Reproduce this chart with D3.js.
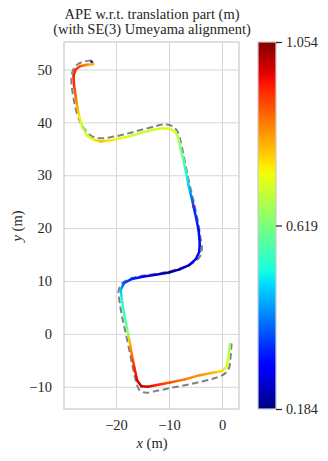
<!DOCTYPE html>
<html>
<head>
<meta charset="utf-8">
<script src="https://cdn.jsdelivr.net/npm/d3@7"></script>
<style>
  html, body { margin: 0; padding: 0; background: #fff; }
  svg text { font-family: "Liberation Serif", "DejaVu Serif", serif; fill: #262626; }
</style>
</head>
<body>
<svg id="chart" width="328" height="461"></svg>
<script>
// reference trajectory (grey dashed)
const refX = [-24.6, -26.0, -27.2, -28.0, -28.4, -28.3, -28.0, -27.5, -26.8, -26.0, -24.6, -23.0, -21.0, -19.0, -17.0, -14.8, -12.5, -11.0, -9.6, -8.6, -8.1, -7.6, -7.0, -6.4, -5.7, -5.1, -4.5, -4.1, -3.8, -4.2, -5.2, -6.8, -9.0, -12.0, -15.0, -17.2, -18.8, -19.5, -19.3, -18.8, -18.3, -17.6, -16.9, -16.2, -15.6, -14.5, -12.0, -9.6, -7.0, -4.2, -1.5, 0.4, 1.3, 1.6, 1.8];
const refY = [51.7, 51.5, 51.0, 50.1, 48.5, 46.5, 44.5, 42.2, 40.2, 38.8, 37.4, 37.0, 37.2, 37.6, 38.1, 38.7, 39.3, 39.6, 39.4, 38.6, 37.5, 35.5, 32.5, 29.6, 26.5, 24.0, 21.0, 18.5, 16.0, 14.6, 13.6, 12.8, 12.1, 11.4, 11.0, 10.5, 9.6, 8.2, 6.0, 3.0, 0.8, -2.5, -6.0, -9.0, -10.6, -11.1, -10.7, -10.2, -9.7, -9.1, -8.4, -7.6, -6.5, -4.5, -1.8];

// estimated trajectory, coloured by APE
const estX = [-24.6, -24.3, -25.5, -26.8, -27.6, -28.0, -27.9, -27.6, -27.3, -26.9, -26.3, -25.4, -24.2, -22.8, -21.0, -19.0, -17.0, -15.0, -13.0, -11.2, -9.8, -8.8, -8.2, -7.8, -7.3, -6.8, -6.3, -5.8, -5.45, -5.42, -5.38, -4.9, -4.4, -4.2, -4.3, -4.9, -6.2, -8.0, -10.0, -12.5, -15.0, -17.0, -18.5, -19.1, -18.9, -18.5, -18.1, -17.7, -17.4, -17.0, -16.5, -16.0, -15.2, -14.0, -12.0, -9.8, -7.0, -4.2, -1.5, 0.0, 0.9, 1.2, 1.5];
const estY = [51.5, 51.0, 50.9, 50.6, 50.0, 48.8, 47.0, 45.0, 43.0, 41.0, 39.0, 37.5, 36.7, 36.4, 36.6, 37.0, 37.5, 38.1, 38.6, 38.9, 38.8, 38.2, 37.0, 35.0, 33.0, 30.5, 28.0, 26.0, 24.5, 24.3, 24.1, 22.0, 19.5, 17.0, 15.5, 14.2, 13.0, 12.2, 11.6, 11.2, 10.8, 10.4, 9.6, 8.3, 6.5, 4.0, 2.0, 0.0, -1.5, -4.0, -6.5, -8.8, -9.9, -10.0, -9.6, -9.2, -8.6, -7.8, -7.3, -7.0, -6.2, -4.5, -1.9];
const apeErr = [0.25, 0.80, 0.85, 0.90, 0.93, 0.95, 0.93, 0.88, 0.82, 0.75, 0.68, 0.70, 0.76, 0.80, 0.76, 0.73, 0.71, 0.70, 0.71, 0.72, 0.72, 0.70, 0.67, 0.63, 0.58, 0.52, 0.47, 0.40, 0.35, 0.95, 0.34, 0.33, 0.30, 0.30, 0.30, 0.28, 0.25, 0.22, 0.20, 0.24, 0.28, 0.32, 0.36, 0.45, 0.52, 0.55, 0.58, 0.66, 0.80, 0.88, 0.94, 0.98, 1.00, 0.98, 0.94, 0.90, 0.86, 0.84, 0.80, 0.77, 0.72, 0.70, 0.65];

const xTicks = [-20, -10, 0];
const yTicks = [-10, 0, 10, 20, 30, 40, 50];
const cbarTicks = [0.184, 0.619, 1.054];

const svg = d3.select("#chart");
const plot = { left: 64, right: 239, top: 42, bottom: 409 };
const fontSize = 14.5;

const x = d3.scaleLinear().domain([-29.8, 3.2]).range([plot.left, plot.right]);
const y = d3.scaleLinear().domain([-14.2, 55.2]).range([plot.bottom, plot.top]);

// matplotlib "jet"
const jetR = d3.scaleLinear().domain([0, 0.35, 0.66, 0.89, 1]).range([0, 0, 1, 1, 0.5]).clamp(true);
const jetG = d3.scaleLinear().domain([0, 0.125, 0.375, 0.64, 0.91, 1]).range([0, 0, 1, 1, 0, 0]).clamp(true);
const jetB = d3.scaleLinear().domain([0, 0.11, 0.34, 0.65, 1]).range([0.5, 1, 1, 0, 0]).clamp(true);
const jet = (t) => d3.rgb(jetR(t) * 255, jetG(t) * 255, jetB(t) * 255).formatHex();
const norm = d3.scaleLinear().domain([0.184, 1.054]).range([0, 1]).clamp(true);
const errColor = (v) => jet(norm(v));

const defs = svg.append("defs");
const minus = (d) => d3.format("d")(d).replace("-", "\u2212");

// grid
const xAxis = svg.append("g")
  .attr("transform", `translate(0, ${plot.bottom})`)
  .call(d3.axisBottom(x).tickValues(xTicks).tickSizeInner(-(plot.bottom - plot.top)).tickSizeOuter(0).tickPadding(11).tickFormat(minus));
const yAxis = svg.append("g")
  .attr("transform", `translate(${plot.left}, 0)`)
  .call(d3.axisLeft(y).tickValues(yTicks).tickSizeInner(-(plot.right - plot.left)).tickSizeOuter(0).tickPadding(12).tickFormat(minus));

[xAxis, yAxis].forEach((a) => {
  a.select(".domain").remove();
  a.selectAll(".tick line").attr("stroke", "#d6d6d6").attr("stroke-width", 1);
  a.selectAll(".tick text").attr("font-size", fontSize).attr("fill", "#262626");
});

svg.append("rect")
  .attr("x", plot.left).attr("y", plot.top)
  .attr("width", plot.right - plot.left).attr("height", plot.bottom - plot.top)
  .attr("fill", "none").attr("stroke", "#cccccc").attr("stroke-width", 1.25);

const clip = defs.append("clipPath").attr("id", "plot-clip");
clip.append("rect").attr("x", plot.left).attr("y", plot.top)
  .attr("width", plot.right - plot.left).attr("height", plot.bottom - plot.top);

const g = svg.append("g").attr("clip-path", "url(#plot-clip)");

// reference, dashed
const refPts = refX.map((v, i) => [v, refY[i]]);
const line = d3.line().x((d) => x(d[0])).y((d) => y(d[1])).curve(d3.curveCatmullRom);
g.append("path")
  .attr("d", line(refPts))
  .attr("fill", "none")
  .attr("stroke", "#808080")
  .attr("stroke-width", 2)
  .attr("stroke-dasharray", "6.5,3.5");

// estimate, one gradient segment per pair of points
const estPts = estX.map((v, i) => ({ x: v, y: estY[i], e: apeErr[i] }));
d3.pairs(estPts).forEach(([a, b], i) => {
  const grad = defs.append("linearGradient")
    .attr("id", `seg-${i}`)
    .attr("gradientUnits", "userSpaceOnUse")
    .attr("x1", x(a.x)).attr("y1", y(a.y))
    .attr("x2", x(b.x)).attr("y2", y(b.y));
  grad.append("stop").attr("offset", "0%").attr("stop-color", errColor(a.e));
  grad.append("stop").attr("offset", "100%").attr("stop-color", errColor(b.e));
  g.append("line")
    .attr("x1", x(a.x)).attr("y1", y(a.y))
    .attr("x2", x(b.x)).attr("y2", y(b.y))
    .attr("stroke", `url(#seg-${i})`)
    .attr("stroke-width", 2.5)
    .attr("stroke-linecap", "round");
});

// title & axis labels
const title = svg.append("text").attr("x", 152).attr("y", 19)
  .attr("text-anchor", "middle").attr("font-size", fontSize);
title.append("tspan").attr("x", 152).text("APE w.r.t. translation part (m)");
title.append("tspan").attr("x", 152).attr("dy", 15).text("(with SE(3) Umeyama alignment)");

const xl = svg.append("text").attr("x", 152).attr("y", 448)
  .attr("text-anchor", "middle").attr("font-size", fontSize);
xl.append("tspan").attr("font-style", "italic").text("x");
xl.append("tspan").text(" (m)");

const yl = svg.append("text").attr("transform", "translate(22, 226) rotate(-90)")
  .attr("text-anchor", "middle").attr("font-size", fontSize);
yl.append("tspan").attr("font-style", "italic").text("y");
yl.append("tspan").text(" (m)");

// colorbar
const cb = { left: 258, width: 18 };
const cbScale = d3.scaleLinear().domain([0.184, 1.054]).range([plot.bottom, plot.top]);
const cbGrad = defs.append("linearGradient").attr("id", "cbar")
  .attr("x1", 0).attr("y1", 1).attr("x2", 0).attr("y2", 0);
d3.range(0, 1.0001, 0.02).forEach((t) => {
  cbGrad.append("stop").attr("offset", `${t * 100}%`).attr("stop-color", jet(t));
});
svg.append("rect")
  .attr("x", cb.left).attr("y", plot.top)
  .attr("width", cb.width).attr("height", plot.bottom - plot.top)
  .attr("fill", "url(#cbar)")
  .attr("stroke", "#cccccc").attr("stroke-width", 1.25);

const cbAxis = svg.append("g")
  .attr("transform", `translate(${cb.left + cb.width}, 0)`)
  .call(d3.axisRight(cbScale).tickValues(cbarTicks).tickSize(6).tickPadding(4).tickFormat(d3.format(".3f")));
cbAxis.select(".domain").remove();
cbAxis.selectAll(".tick line").attr("stroke", "#262626").attr("stroke-width", 1.25);
cbAxis.selectAll(".tick text").attr("font-size", 14.2).attr("fill", "#262626");
</script>
</body>
</html>
